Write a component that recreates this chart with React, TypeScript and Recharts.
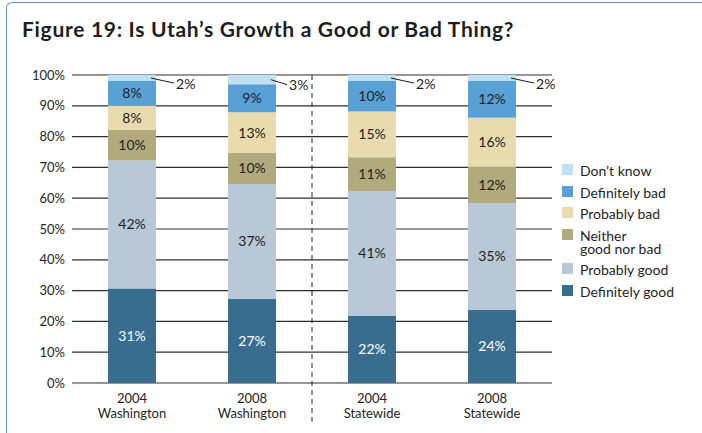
import { BarChart, Bar, XAxis, YAxis, CartesianGrid, LabelList, ReferenceLine } from "recharts";

const years = ["2004", "2008", "2004", "2008"];
const places = ["Washington", "Washington", "Statewide", "Statewide"];

const definitelyGood = [31, 27, 22, 24];
const probablyGood = [42, 37, 41, 35];
const neither = [10, 10, 11, 12];
const probablyBad = [8, 13, 15, 16];
const definitelyBad = [8, 9, 10, 12];
const dontKnow = [2, 3, 2, 2];

const yTicks = [0, 0.1, 0.2, 0.3, 0.4, 0.5, 0.6, 0.7, 0.8, 0.9, 1];

// the dashed divider sits after this category (Washington | Statewide)
const separatorAfter = 1;

const series = [
  { key: "definitelyGood", name: "Definitely good", color: "#386d8f", values: definitelyGood, text: "#ffffff" },
  { key: "probablyGood", name: "Probably good", color: "#b8c8d6", values: probablyGood, text: "#1e1e1e" },
  { key: "neither", name: "Neither\ngood nor bad", color: "#b0aa7d", values: neither, text: "#1e1e1e" },
  { key: "probablyBad", name: "Probably bad", color: "#e8dcae", values: probablyBad, text: "#1e1e1e" },
  { key: "definitelyBad", name: "Definitely bad", color: "#58a0d6", values: definitelyBad, text: "#1e1e1e" },
  { key: "dontKnow", name: "Don\u2019t know", color: "#c0e0f5", values: dontKnow, text: "#1e1e1e" },
];

const data = years.map((year, i) => {
  const row: Record<string, string | number> = { name: `${year} ${places[i]}` };
  series.forEach((s) => {
    row[s.key] = s.values[i];
  });
  return row;
});

const FONT = "Lato, 'Open Sans', sans-serif";

function CategoryTick(props: any) {
  const { x, y, payload } = props;
  const [year, place] = String(payload.value).split(" ");
  return (
    <g fill="#1e1e1e" fontSize={13} fontFamily={FONT}>
      <text x={x} y={y + 18} textAnchor="middle">{year}</text>
      <text x={x} y={y + 33} textAnchor="middle">{place}</text>
    </g>
  );
}

function OutsideLabel(props: any) {
  const { x, y, width, height, value, index } = props;
  const cy = y + height / 2;
  const right = x + width;
  // shorter leader next to the divider so the text stays clear of it
  const len = index === separatorAfter ? 11 : 18;
  return (
    <g>
      <line x1={right - 5} y1={cy} x2={right + len} y2={cy + 5} stroke="#1e1e1e" strokeWidth={1} />
      <text x={right + len + 2} y={cy + 5} dominantBaseline="central" fill="#1e1e1e" fontSize={14} fontFamily={FONT}>
        {value}%
      </text>
    </g>
  );
}

export default function App() {
  const legendItems = [...series].reverse();
  return (
    <div style={{ position: "absolute", left: 0, top: 0, width: 702, height: 433, background: "#fff", overflow: "hidden", fontFamily: FONT }}>
      <div
        style={{
          position: "absolute",
          left: 6,
          top: 2,
          width: 720,
          height: 460,
          borderTop: "1.5px solid #5e94c4",
          borderLeft: "1.5px solid #5e94c4",
          borderTopLeftRadius: 6,
        }}
      />
      <div style={{ position: "absolute", left: 22, top: 16, fontSize: 21, fontWeight: 700, color: "#1e1e1e", letterSpacing: 0.7 }}>
        Figure 19: Is Utah’s Growth a Good or Bad Thing?
      </div>
      <div style={{ position: "absolute", left: 0, top: 0 }}>
        <BarChart
          width={702}
          height={433}
          data={data}
          stackOffset="expand"
          barSize={48}
          margin={{ top: 75, right: 150, bottom: 10, left: 0 }}
        >
          <CartesianGrid vertical={false} stroke="#2e2e2e" strokeWidth={1.2} />
          <XAxis dataKey="name" axisLine={false} tickLine={false} tickSize={0} height={40} tick={<CategoryTick />} interval={0} />
          <YAxis
            width={72}
            ticks={yTicks}
            domain={[0, 1]}
            axisLine={false}
            tickLine={false}
            tickSize={0}
            tickMargin={7}
            tickFormatter={(v: number) => `${Math.round(v * 100)}%`}
            tick={{ fontSize: 13, fill: "#1e1e1e", fontFamily: FONT }}
          />
          {series.map((s) => (
            <Bar key={s.key} dataKey={s.key} name={s.name} stackId="a" fill={s.color} isAnimationActive={false}>
              {s.key === "dontKnow" ? (
                <LabelList dataKey={s.key} content={<OutsideLabel />} />
              ) : (
                <LabelList
                  dataKey={s.key}
                  position="center"
                  formatter={(v: any) => `${v}%`}
                  style={{ fontSize: 14, fill: s.text, fontFamily: FONT }}
                />
              )}
            </Bar>
          ))}
          <ReferenceLine
            segment={[
              { x: data[separatorAfter].name, y: 1 },
              { x: data[separatorAfter].name, y: -0.125 },
            ]}
            position="end"
            ifOverflow="visible"
            stroke="#1e1e1e"
            strokeDasharray="5 4"
            strokeWidth={1}
          />
        </BarChart>
      </div>
      <div style={{ position: "absolute", left: 562, top: 164, display: "flex", flexDirection: "column", gap: 8.5 }}>
        {legendItems.map((s) => (
          <div key={s.key} style={{ display: "flex", alignItems: "flex-start" }}>
            <div style={{ width: 11, height: 11, background: s.color, marginRight: 7, flexShrink: 0 }} />
            <div style={{ fontSize: 14, lineHeight: "13px", color: "#1e1e1e", whiteSpace: "pre" }}>{s.name}</div>
          </div>
        ))}
      </div>
    </div>
  );
}
